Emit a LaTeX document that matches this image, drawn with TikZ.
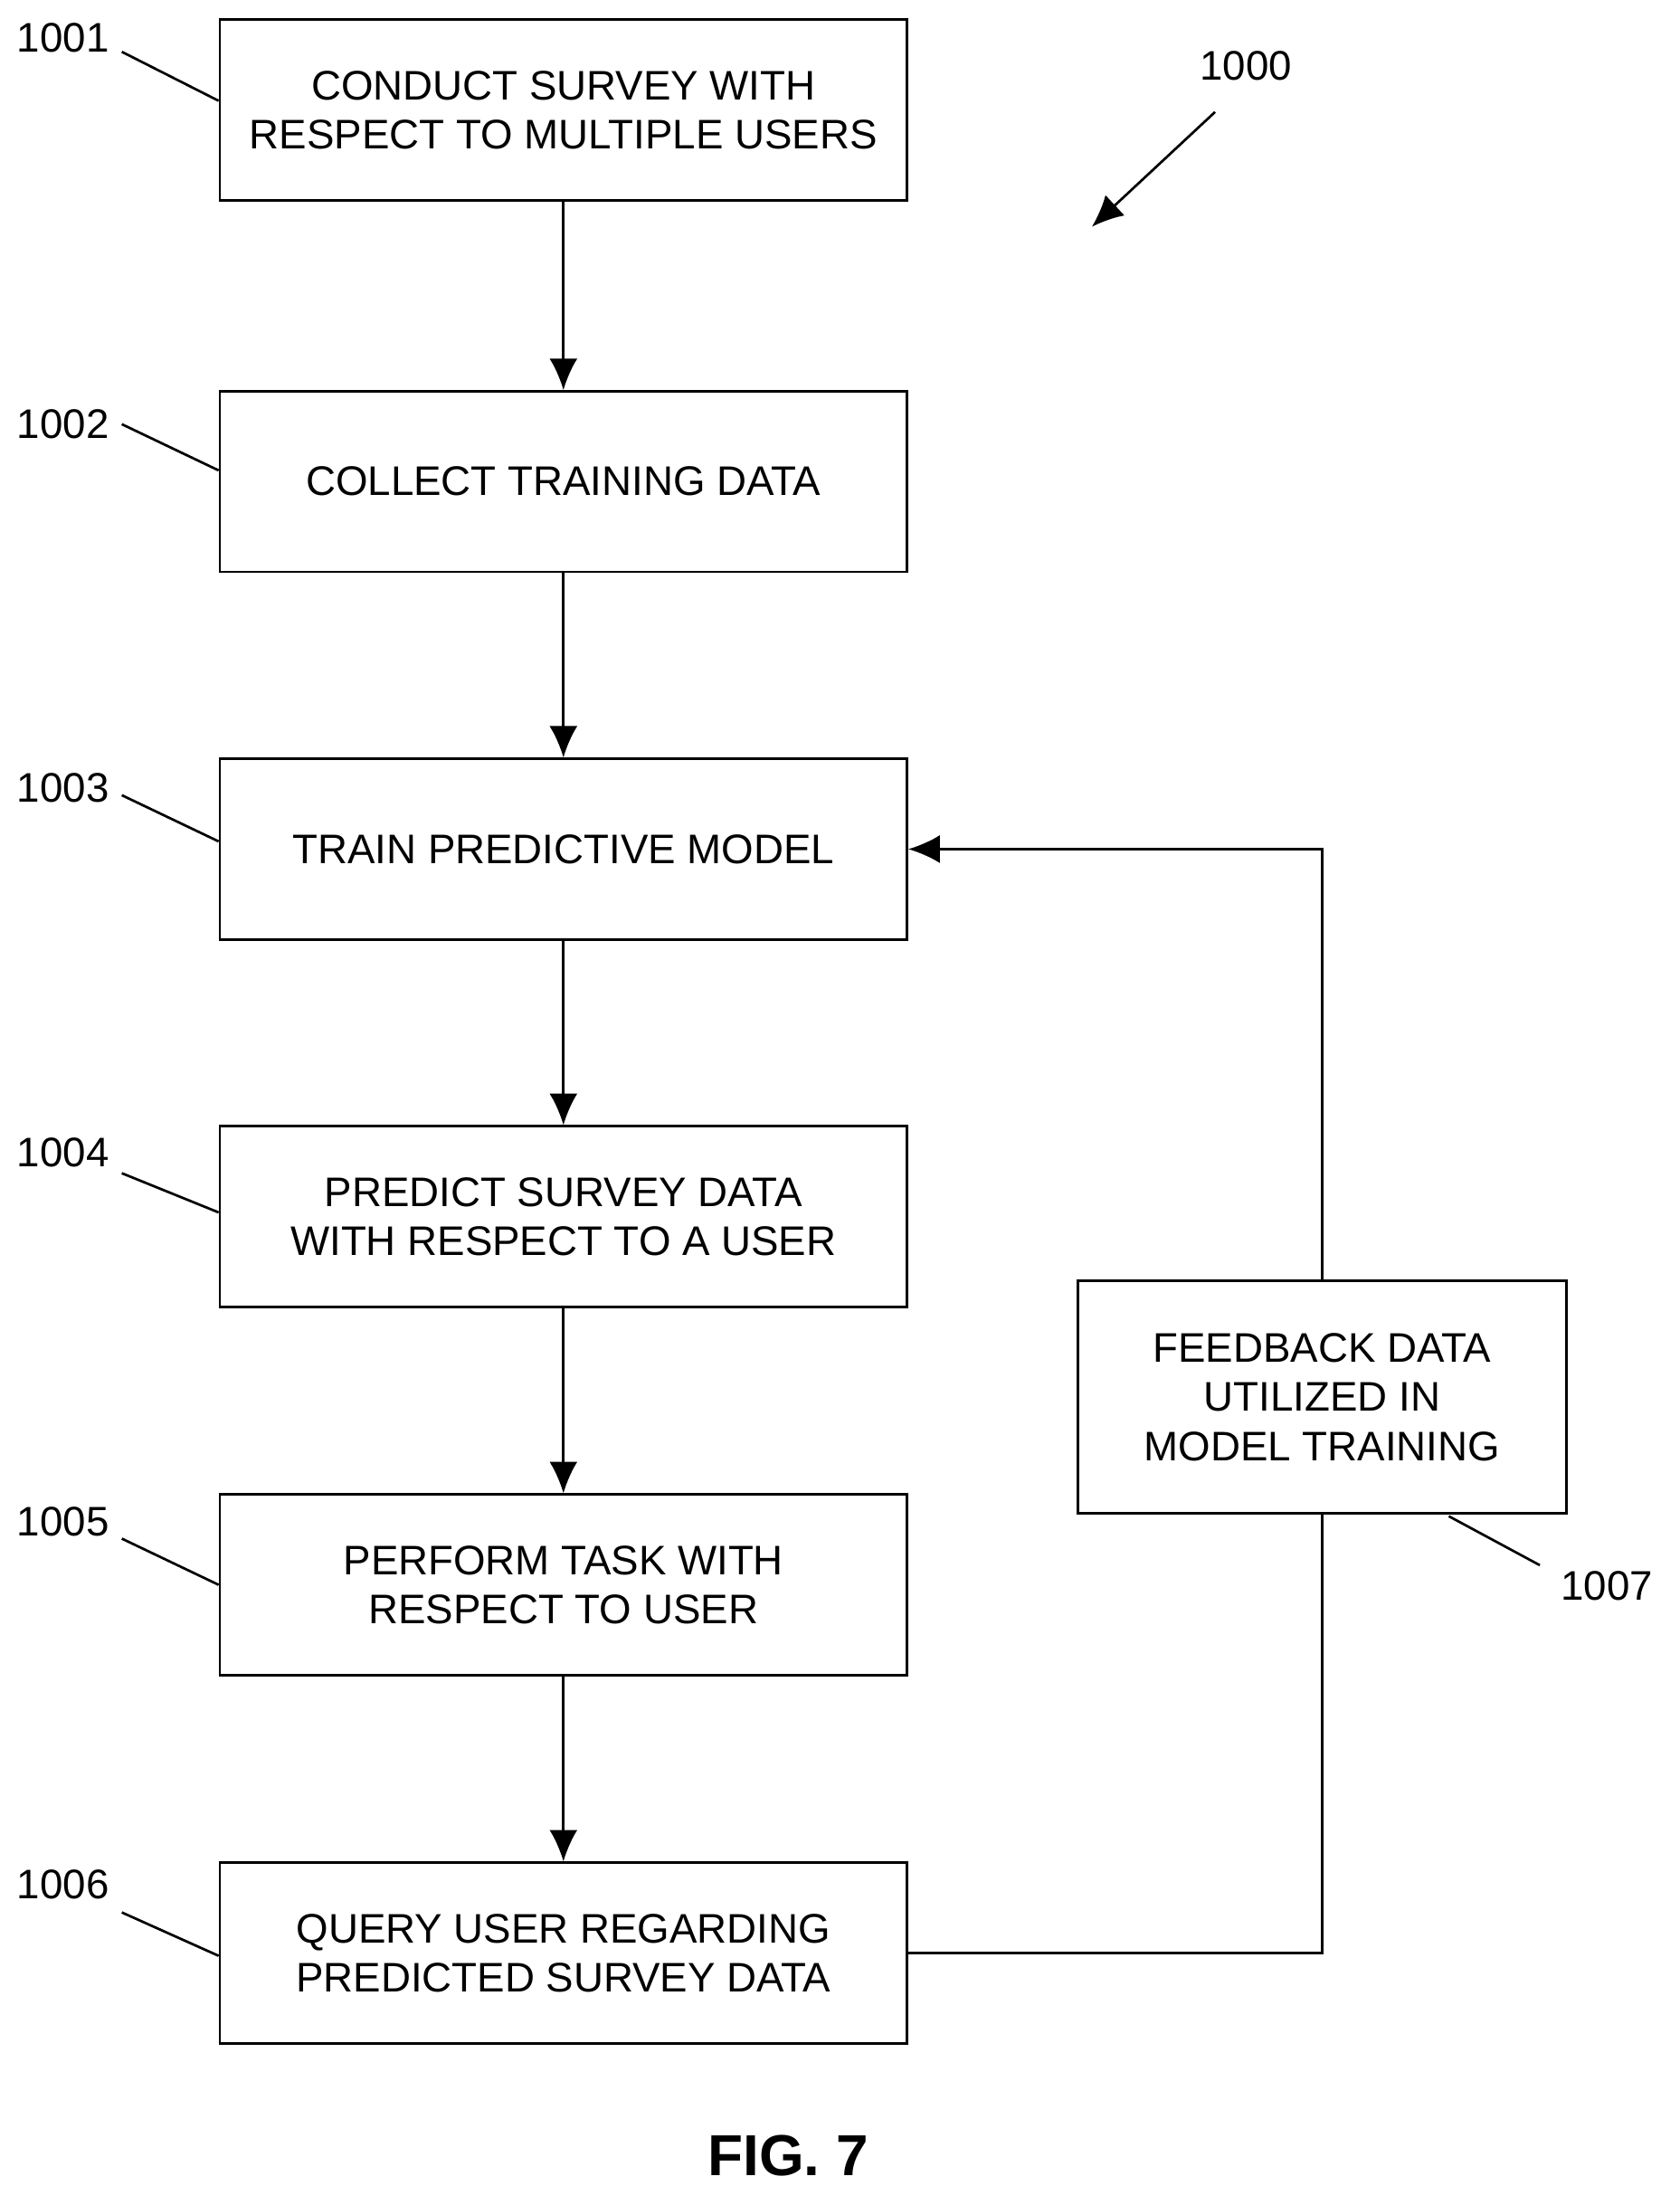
\documentclass[tikz,border=0pt]{standalone}
\usepackage{fontspec}
\setmainfont{Liberation Sans}
\usetikzlibrary{arrows.meta,positioning}

\tikzset{
  stepbox/.style={draw,line width=1pt,minimum width=9.82cm,minimum height=2.58cm,align=center,
    font=\fontsize{16.8}{20}\selectfont},
  ref/.style={font=\fontsize{16.8}{20}\selectfont},
  flow/.style={-{Latex[length=4.5mm,width=4mm]},line width=1pt},
  lead/.style={line width=1pt}
}

\begin{document}
\begin{tikzpicture}[x=0.02cm,y=-0.02cm]
        \useasboundingbox (0,0) rectangle (1200,1575);

        % Step boxes
        \node[stepbox] (survey) at (402.5,78.5) {CONDUCT SURVEY WITH\\RESPECT TO MULTIPLE USERS};
        \node[stepbox] (collect) at (402.5,344) {COLLECT TRAINING DATA};
        \node[stepbox] (train) at (402.5,606.5) {TRAIN PREDICTIVE MODEL};
        \node[stepbox] (predict) at (402.5,869) {PREDICT SURVEY DATA\\WITH RESPECT TO A USER};
        \node[stepbox] (task) at (402.5,1132) {PERFORM TASK WITH\\RESPECT TO USER};
        \node[stepbox] (query) at (402.5,1395) {QUERY USER REGARDING\\PREDICTED SURVEY DATA};
        \node[stepbox,minimum width=6.98cm,minimum height=3.32cm] (feedback) at (944.5,998) {FEEDBACK DATA\\UTILIZED IN\\MODEL TRAINING};

        % Reference numerals
        \node[ref] (n1001) at (45,27) {1001};
        \node[ref] (n1002) at (45,303) {1002};
        \node[ref] (n1003) at (45,563) {1003};
        \node[ref] (n1004) at (45,823) {1004};
        \node[ref] (n1005) at (45,1087) {1005};
        \node[ref] (n1006) at (45,1346) {1006};
        \node[ref] (n1007) at (1148,1133) {1007};
        \node[ref] (n1000) at (890,47) {1000};
        \node[font=\bfseries\fontsize{23.5}{28}\selectfont] (fig) at (563,1540) {FIG. 7};

        % Leader lines
        \draw[lead] (n1001.east)++(3,10) -- (survey.west |- 0,72);
        \draw[lead] (n1002.east)++(3,0) -- (collect.west |- 0,336);
        \draw[lead] (n1003.east)++(3,5) -- (train.west |- 0,601);
        \draw[lead] (n1004.east)++(3,15) -- (predict.west |- 0,866);
        \draw[lead] (n1005.east)++(3,12) -- (task.west |- 0,1132);
        \draw[lead] (n1006.east)++(3,20) -- (query.west |- 0,1397);
        \coordinate (l1007) at (1035,1083);
        \draw[lead] (l1007) -- (1100,1118);
        \coordinate (a1000) at (868,80);
        \coordinate (b1000) at (780,162);
        \draw[flow] (a1000) -- (b1000);

        % Flow arrows
        \draw[flow] (survey) -- (collect);
        \draw[flow] (collect) -- (train);
        \draw[flow] (train) -- (predict);
        \draw[flow] (predict) -- (task);
        \draw[flow] (task) -- (query);

        % Feedback loop
        \draw[lead] (query.east) -| (feedback.south);
        \draw[flow] (feedback.north) |- (train.east);
\end{tikzpicture}
\end{document}
